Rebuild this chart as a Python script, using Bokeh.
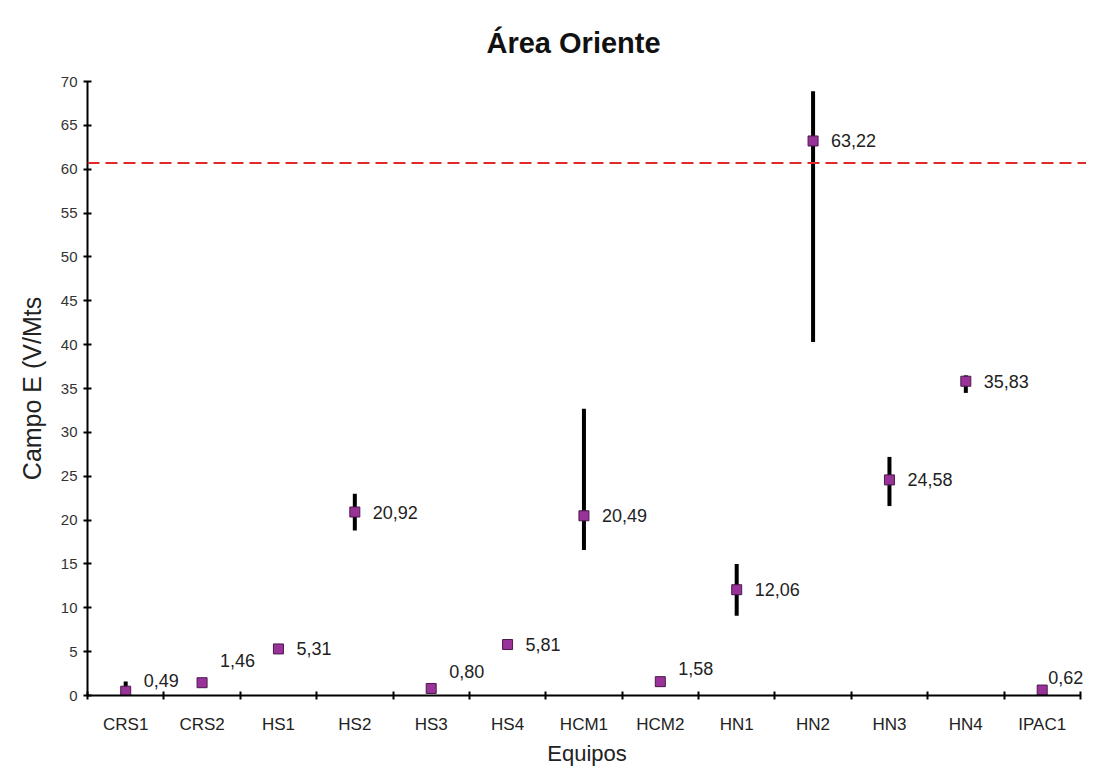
from bokeh.plotting import figure
from bokeh.models import Span, FixedTicker, ColumnDataSource
from bokeh.core.properties import value
from bokeh.embed import file_html
from bokeh.resources import INLINE

# ---- data ----
categories = ["CRS1", "CRS2", "HS1", "HS2", "HS3", "HS4", "HCM1", "HCM2",
              "HN1", "HN2", "HN3", "HN4", "IPAC1"]
values = [0.49, 1.46, 5.31, 20.92, 0.80, 5.81, 20.49, 1.58, 12.06, 63.22, 24.58, 35.83, 0.62]
err_low = [0.0, 1.2, 5.0, 18.8, 0.5, 5.2, 16.6, 1.2, 9.1, 40.3, 21.6, 34.5, 0.4]
err_high = [1.6, 1.7, 5.6, 23.0, 1.1, 6.4, 32.7, 1.9, 15.0, 68.9, 27.2, 36.5, 0.8]
limit = 60.7
y_ticks = list(range(0, 75, 5))

# label offsets (styling, screen px; negative dy = up)
label_dy = [-11, -22, 0, 0, -17, 0, 0, -13, 0, 0, 0, 0, -13]
label_dx = [18, 18, 18, 18, 18, 18, 18, 18, 18, 18, 18, 18, 6]

x = [i + 0.5 for i in range(len(categories))]
labels = [f"{v:.2f}".replace(".", ",") for v in values]

src = ColumnDataSource(dict(x=x, y=values, lo=err_low, hi=err_high,
                            lab=labels, dy=label_dy, dx=label_dx))

FONT = "Liberation Sans"

p = figure(width=1086, height=768, x_range=(0, 13.08), y_range=(0, 70),
           output_backend="svg", toolbar_location=None,
           min_border_left=87, min_border_right=0, min_border_top=81, min_border_bottom=40,
           title="Área Oriente")
p.outline_line_color = None
p.xgrid.visible = False
p.ygrid.visible = False

p.title.align = "left"
p.title.offset = 399
p.title.text_font = FONT
p.title.text_font_size = "29px"
p.title.text_font_style = "bold"
p.title.text_color = "#111111"
p.title.standoff = 45

# x axis
xa = p.xaxis[0]
xa.ticker = FixedTicker(ticks=x, minor_ticks=list(range(len(categories) + 1)))
xa.major_label_overrides = {v: c for v, c in zip(x, categories)}
xa.bounds = (0, len(categories))
xa.major_tick_in = 0
xa.major_tick_out = 0
xa.minor_tick_in = 4
xa.minor_tick_out = 4
xa.minor_tick_line_color = "black"
xa.minor_tick_line_width = 2
xa.axis_line_width = 2
xa.axis_line_color = "black"
xa.major_label_standoff = 15
xa.major_label_text_font = FONT
xa.major_label_text_font_size = "17px"
xa.major_label_text_color = "#222222"
xa.axis_label = "Equipos"
xa.axis_label_text_font = FONT
xa.axis_label_text_font_size = "22px"
xa.axis_label_text_font_style = "normal"
xa.axis_label_text_color = "#222222"
xa.axis_label_standoff = 4

# y axis
ya = p.yaxis[0]
ya.ticker = FixedTicker(ticks=y_ticks)
ya.major_tick_in = 4
ya.major_tick_out = 4
ya.major_tick_line_width = 2
ya.minor_tick_line_color = None
ya.axis_line_width = 2
ya.axis_line_color = "black"
ya.major_label_standoff = 6
ya.major_label_text_font = FONT
ya.major_label_text_font_size = "15px"
ya.major_label_text_color = "#333333"
ya.axis_label = "Campo E (V/Mts"
ya.axis_label_text_font = FONT
ya.axis_label_text_font_size = "25px"
ya.axis_label_text_font_style = "normal"
ya.axis_label_text_color = "#222222"
ya.axis_label_standoff = 12

# limit line
p.add_layout(Span(location=limit, dimension="width", line_color="#e02a2a",
                  line_width=2, line_dash="12 6"))

# error bars
p.segment(x0="x", y0="lo", x1="x", y1="hi", source=src, line_color="black", line_width=4)

# markers
p.scatter(x="x", y="y", source=src, marker="square", size=10,
          fill_color="#993399", line_color="#4a1a4a", line_width=1)

# labels
p.text(x="x", y="y", text="lab", source=src, x_offset="dx", y_offset="dy",
       text_font=value(FONT), text_font_size="18px", text_color="#222222",
       text_baseline="middle", text_align="left")

open("out.html", "w").write(file_html(p, INLINE))
